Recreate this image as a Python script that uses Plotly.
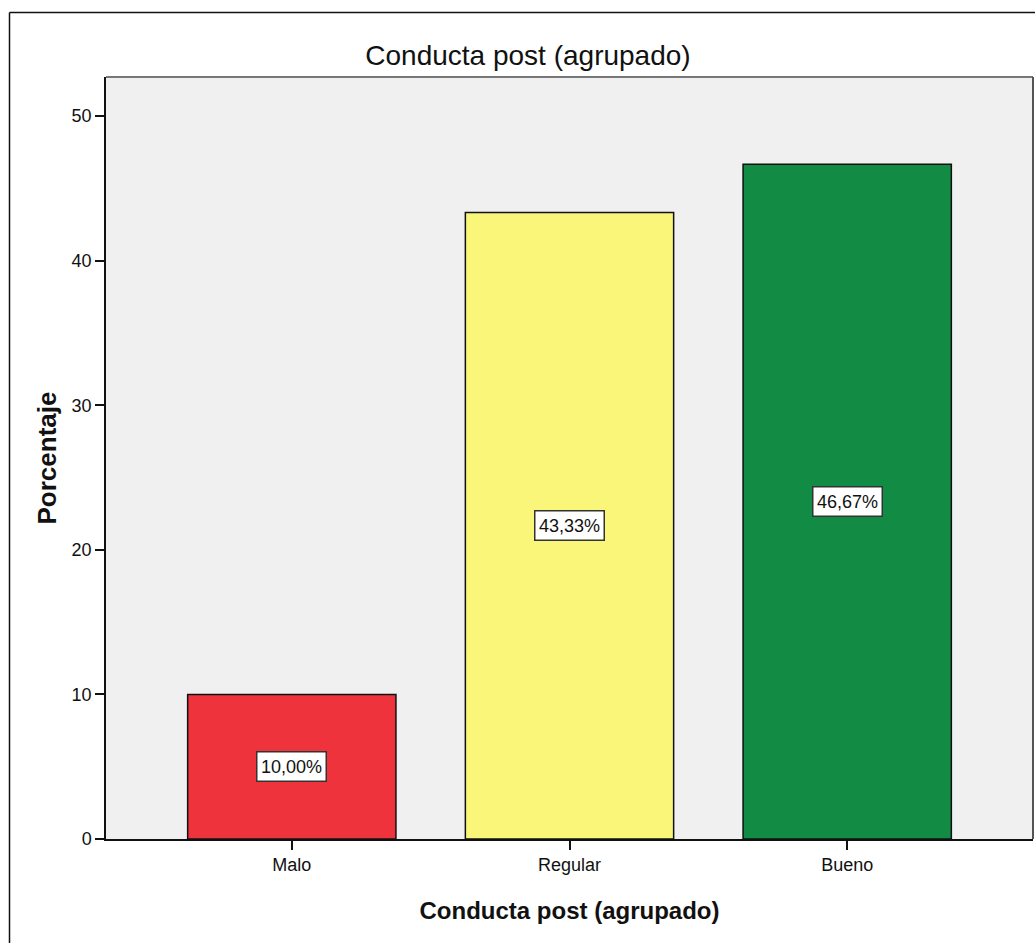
import plotly.graph_objects as go

# Data
categories = ["Malo", "Regular", "Bueno"]
percentages = [10.00, 43.33, 46.67]
bar_colors = ["#EF333C", "#F9F679", "#128C45"]
y_ticks = [0, 10, 20, 30, 40, 50]

W, H = 1035, 943
M_L, M_R, M_T, M_B = 106, 2, 77, 104
plot_w = W - M_L - M_R
plot_h = H - M_T - M_B

NARROW = "Liberation Sans Narrow, Arial Narrow, Liberation Sans, Arial"
REGULAR = "Liberation Sans, Arial"

fig = go.Figure()
fig.add_trace(go.Bar(
    x=categories,
    y=percentages,
    marker=dict(color=bar_colors, line=dict(color="#111111", width=1.5)),
    width=0.75,
    showlegend=False,
    hoverinfo="skip",
))

# Value labels in white boxes at mid-height of each bar
for cat, val in zip(categories, percentages):
    fig.add_annotation(
        x=cat, y=val / 2, text=f"{val:.2f}%".replace(".", ","),
        showarrow=False, xref="x", yref="y",
        font=dict(family=NARROW, size=18, color="#111111"),
        bgcolor="white", bordercolor="#333333", borderwidth=1.5, borderpad=2,
        width=64, height=24,
    )

# Outer frame (left and top edges of the chart frame)
def px_to_paper_x(px):
    return (px - M_L) / plot_w

def px_to_paper_y(py):
    return 1 - (py - M_T) / plot_h

fig.add_shape(type="line", xref="paper", yref="paper",
              x0=px_to_paper_x(9.5), x1=px_to_paper_x(W + 5),
              y0=px_to_paper_y(12.5), y1=px_to_paper_y(12.5),
              line=dict(color="#111111", width=1.5))
fig.add_shape(type="line", xref="paper", yref="paper",
              x0=px_to_paper_x(9.5), x1=px_to_paper_x(9.5),
              y0=px_to_paper_y(12.5), y1=px_to_paper_y(H + 5),
              line=dict(color="#111111", width=1.5))

# Top and right edges of the plot area
fig.add_shape(type="line", xref="paper", yref="paper",
              x0=0, x1=1, y0=1, y1=1, line=dict(color="#777777", width=2))
fig.add_shape(type="line", xref="paper", yref="paper",
              x0=1, x1=1, y0=0, y1=1, line=dict(color="#555555", width=2))

fig.update_layout(
    width=W, height=H,
    margin=dict(l=M_L, r=M_R, t=M_T, b=M_B, pad=0),
    paper_bgcolor="white",
    plot_bgcolor="#F0F0F0",
    font=dict(family=REGULAR, color="#111111"),
    title=dict(
        text="Conducta post (agrupado)",
        x=528 / W, xanchor="center", y=1 - 55 / H, yanchor="middle",
        font=dict(family=REGULAR, size=28, color="#111111"),
    ),
    xaxis=dict(
        range=[-0.669, 2.669],
        showgrid=False, zeroline=False,
        showline=True, linecolor="#111111", linewidth=1.5,
        ticks="outside", ticklen=9, tickcolor="#111111", tickwidth=1.5,
        tickfont=dict(family=NARROW, size=18, color="#111111"),
        title=dict(text="<b>Conducta post (agrupado)</b>",
                   font=dict(family=REGULAR, size=24, color="#111111"), standoff=28),
    ),
    yaxis=dict(
        range=[0, 52.7],
        tickvals=y_ticks,
        showgrid=False, zeroline=False,
        showline=True, linecolor="#111111", linewidth=1.5,
        ticks="outside", ticklen=9, tickcolor="#111111", tickwidth=1.5,
        tickfont=dict(family=NARROW, size=18, color="#111111"),
        title=dict(text="<b>Porcentaje</b>",
                   font=dict(family=REGULAR, size=26, color="#111111"), standoff=8),
    ),
)

fig.write_html("out.html")
